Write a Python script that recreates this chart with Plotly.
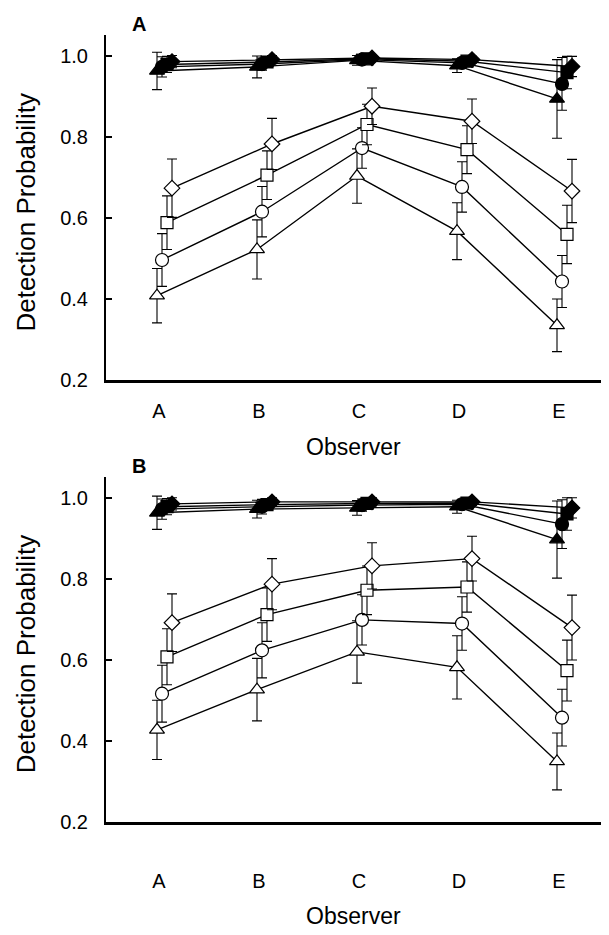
import plotly.graph_objects as go

observers = ["A", "B", "C", "D", "E"]
symbols = ["triangle-up", "circle", "square", "diamond"]
offsets = [0.0, 0.05, 0.10, 0.15]

# Panel A - open markers (lower group)
a_open = [
    [0.408, 0.522, 0.703, 0.567, 0.335],
    [0.496, 0.615, 0.772, 0.676, 0.443],
    [0.588, 0.705, 0.830, 0.768, 0.559],
    [0.673, 0.782, 0.875, 0.838, 0.666],
]
a_open_err = [
    [0.067, 0.073, 0.067, 0.070, 0.065],
    [0.065, 0.062, 0.050, 0.062, 0.064],
    [0.066, 0.060, 0.050, 0.059, 0.072],
    [0.072, 0.063, 0.045, 0.055, 0.078],
]
# Panel A - filled markers (upper group)
a_fill = [
    [0.962, 0.972, 0.988, 0.975, 0.893],
    [0.972, 0.979, 0.990, 0.982, 0.930],
    [0.978, 0.984, 0.992, 0.986, 0.958],
    [0.985, 0.990, 0.994, 0.990, 0.973],
]
a_fill_err = [
    [0.046, 0.027, 0.012, 0.017, 0.097],
    [0.025, 0.015, 0.008, 0.012, 0.065],
    [0.020, 0.012, 0.006, 0.010, 0.040],
    [0.015, 0.010, 0.005, 0.008, 0.025],
]
# Panel B - open markers
b_open = [
    [0.428, 0.527, 0.620, 0.582, 0.350],
    [0.517, 0.624, 0.699, 0.690, 0.458],
    [0.608, 0.712, 0.772, 0.780, 0.574],
    [0.692, 0.787, 0.832, 0.850, 0.680],
]
b_open_err = [
    [0.073, 0.077, 0.077, 0.078, 0.070],
    [0.070, 0.068, 0.062, 0.066, 0.070],
    [0.069, 0.066, 0.060, 0.062, 0.075],
    [0.071, 0.063, 0.057, 0.055, 0.080],
]
# Panel B - filled markers
b_fill = [
    [0.963, 0.972, 0.975, 0.978, 0.897],
    [0.972, 0.978, 0.982, 0.984, 0.935],
    [0.978, 0.983, 0.986, 0.987, 0.960],
    [0.985, 0.990, 0.990, 0.990, 0.975],
]
b_fill_err = [
    [0.041, 0.022, 0.018, 0.016, 0.095],
    [0.025, 0.018, 0.015, 0.012, 0.060],
    [0.020, 0.013, 0.012, 0.010, 0.040],
    [0.015, 0.010, 0.010, 0.008, 0.025],
]

y_ticks = [0.2, 0.4, 0.6, 0.8, 1.0]
sizes = [13, 13, 12, 12]

FONT = "Liberation Sans, Arial, sans-serif"
W, H = 609, 935

fig = go.Figure()

def add_group(vals, errs, filled, xa, ya):
    for k in range(4):
        xs = [i + offsets[k] for i in range(len(observers))]
        fig.add_trace(go.Scatter(
            x=xs, y=vals[k], xaxis=xa, yaxis=ya,
            mode="lines+markers",
            line=dict(color="black", width=1.4),
            marker=dict(symbol=symbols[k], size=sizes[k],
                        color="black" if filled else "white",
                        line=dict(color="black", width=1.2)),
            error_y=dict(type="data", array=errs[k], visible=True,
                         color="black", thickness=1.1, width=5),
            showlegend=False, cliponaxis=False,
        ))

add_group(a_open, a_open_err, False, "x", "y")
add_group(a_fill, a_fill_err, True, "x", "y")
add_group(b_open, b_open_err, False, "x2", "y2")
add_group(b_fill, b_fill_err, True, "x2", "y2")

x_left, x_right = 98, 601
xdom = [x_left / W, x_right / W]
xrange = [-0.51, 4.52]
yrange = [0.2, 1.05]
ppu = 410.5
def ydom(bottom_px):
    top_px = bottom_px - (yrange[1] - yrange[0]) * ppu
    return [1 - bottom_px / H, 1 - top_px / H]

tickfont = dict(family=FONT, size=20, color="black")
xa_common = dict(range=xrange, tickvals=[i + 0.02 for i in range(5)], ticktext=observers,
                 showline=True, linewidth=2.5, linecolor="black", ticks="",
                 showgrid=False, zeroline=False, tickfont=tickfont,
                 fixedrange=True)
ya_common = dict(range=yrange, tickvals=y_ticks, ticktext=[f"{v:.1f}" for v in y_ticks],
                 showline=True, linewidth=2, linecolor="black", ticks="inside",
                 ticklen=6, tickwidth=1.5, tickcolor="black",
                 showgrid=False, zeroline=False, tickfont=tickfont,
                 ticklabelstandoff=12, fixedrange=True)

fig.update_layout(
    width=W, height=H, margin=dict(l=0, r=0, t=0, b=0),
    paper_bgcolor="white", plot_bgcolor="white",
    xaxis=dict(domain=xdom, anchor="y", ticklabelstandoff=11, **xa_common),
    yaxis=dict(domain=ydom(376.5), anchor="x", **ya_common),
    xaxis2=dict(domain=xdom, anchor="y2", ticklabelstandoff=39, **xa_common),
    yaxis2=dict(domain=ydom(824), anchor="x2", **ya_common),
)

def ann(text, x, y, size, bold=False, angle=0):
    fig.add_annotation(text=f"<b>{text}</b>" if bold else text,
                       x=x / W, y=1 - y / H, xref="paper", yref="paper",
                       showarrow=False, textangle=angle,
                       font=dict(family=FONT, size=size, color="black"),
                       xanchor="center", yanchor="middle")

ann("A", 131, 16, 20, bold=True)
ann("B", 131, 463, 20, bold=True)
ann("Observer", 345, 444, 23)
ann("Observer", 345, 919, 23)
ann("Detection Probability", 18, 207, 26, angle=-90)
ann("Detection Probability", 18, 654, 26, angle=-90)

fig.write_html("out.html")
